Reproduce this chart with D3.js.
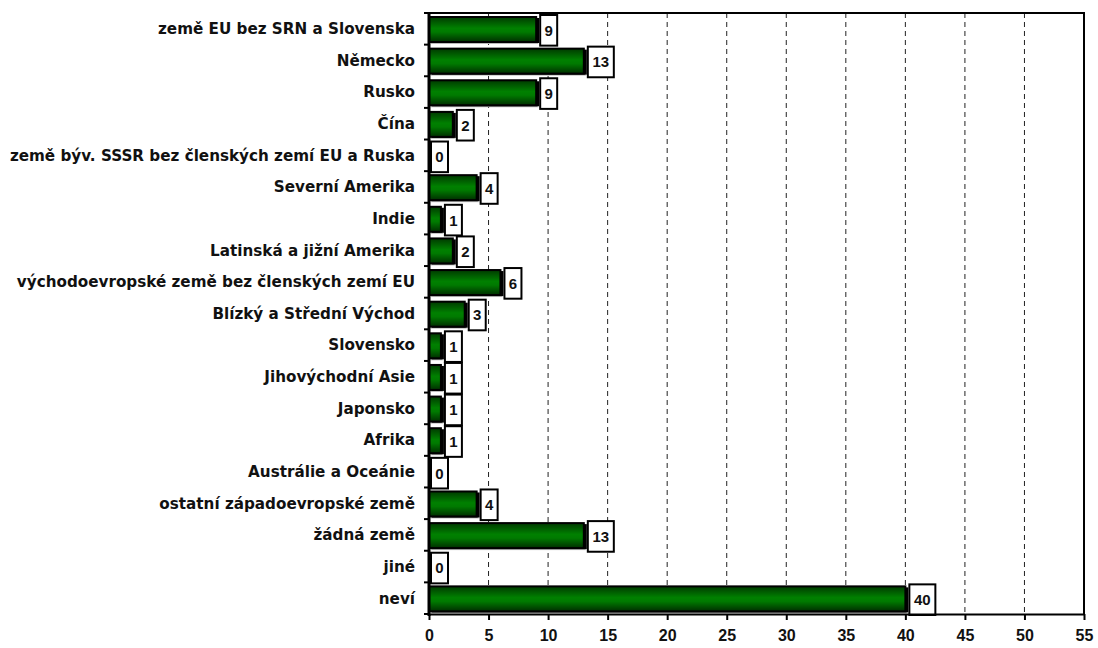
<!DOCTYPE html>
<html>
<head>
<meta charset="utf-8">
<script src="https://cdn.jsdelivr.net/npm/d3@7"></script>
<style>
  html, body { margin: 0; padding: 0; background: #fff; }
  svg { display: block; }
</style>
</head>
<body>
<svg id="chart" width="1098" height="648"></svg>
<script>
// Categories (top to bottom) and their values
const categories = [
  "země EU bez SRN a Slovenska",
  "Německo",
  "Rusko",
  "Čína",
  "země býv. SSSR bez členských zemí EU a Ruska",
  "Severní Amerika",
  "Indie",
  "Latinská a jižní Amerika",
  "východoevropské země bez členských zemí EU",
  "Blízký a Střední Východ",
  "Slovensko",
  "Jihovýchodní Asie",
  "Japonsko",
  "Afrika",
  "Austrálie a Oceánie",
  "ostatní západoevropské země",
  "žádná země",
  "jiné",
  "neví"
];
const values = [9, 13, 9, 2, 0, 4, 1, 2, 6, 3, 1, 1, 1, 1, 0, 4, 13, 0, 40];
const xTicks = [0, 5, 10, 15, 20, 25, 30, 35, 40, 45, 50, 55];

const svg = d3.select("#chart");
const plotL = 429, plotR = 1084, plotT = 13, plotB = 614;

const x = d3.scaleLinear().domain([0, 55]).range([plotL, plotR]);
const y = d3.scaleBand().domain(categories).range([plotT, plotB]).paddingInner(0).paddingOuter(0);
const bw = y.bandwidth();

// bar gradient
const defs = svg.append("defs");
const grad = defs.append("linearGradient").attr("id", "barGrad")
  .attr("x1", 0).attr("y1", 0).attr("x2", 0).attr("y2", 1);
grad.append("stop").attr("offset", "0%").attr("stop-color", "#003a00");
grad.append("stop").attr("offset", "45%").attr("stop-color", "#008000");
grad.append("stop").attr("offset", "60%").attr("stop-color", "#007a00");
grad.append("stop").attr("offset", "100%").attr("stop-color", "#002e00");

// dashed vertical gridlines
svg.append("g").selectAll("line")
  .data(xTicks.filter(d => d > 0 && d < 55))
  .join("line")
  .attr("x1", d => x(d)).attr("x2", d => x(d))
  .attr("y1", plotT).attr("y2", plotB)
  .attr("stroke", "#222").attr("stroke-width", 1)
  .attr("stroke-dasharray", "5,4");

// frame top and right
svg.append("path")
  .attr("d", `M${plotL},${plotT}H${plotR}V${plotB}`)
  .attr("fill", "none").attr("stroke", "#000").attr("stroke-width", 2);

// bars
const barH = 25, barOff = 4;
const rows = svg.append("g").selectAll("g")
  .data(categories.map((c, i) => ({ c, v: values[i] }))).join("g");

// light shadow line under bars
rows.filter(d => d.v > 0).append("rect")
  .attr("x", x(0) + 2)
  .attr("y", d => y(d.c) + barOff + barH)
  .attr("width", d => x(d.v) - x(0))
  .attr("height", 2)
  .attr("fill", "#bbb");

// dark drop shadow
rows.filter(d => d.v > 0).append("rect")
  .attr("x", x(0) + 3)
  .attr("y", d => y(d.c) + barOff + 1)
  .attr("width", d => x(d.v) - x(0))
  .attr("height", barH)
  .attr("fill", "#000");

rows.filter(d => d.v > 0).append("rect")
  .attr("x", x(0))
  .attr("y", d => y(d.c) + barOff)
  .attr("width", d => x(d.v) - x(0))
  .attr("height", barH)
  .attr("fill", "url(#barGrad)")
  .attr("stroke", "#000").attr("stroke-width", 2);

// value boxes
rows.each(function(d) {
  const g = d3.select(this);
  const txt = String(d.v);
  const w = txt.length > 1 ? 26 : 17;
  const bx = x(d.v) + (d.v > 0 ? 4 : 2);
  g.append("rect")
    .attr("x", bx).attr("y", y(d.c) + 2)
    .attr("width", w).attr("height", bw - 1)
    .attr("fill", "#fff").attr("stroke", "#000").attr("stroke-width", 2);
  g.append("text")
    .attr("x", bx + w / 2).attr("y", y(d.c) + 2 + (bw - 1) / 2)
    .attr("dy", "0.36em")
    .attr("text-anchor", "middle")
    .attr("font-family", "Liberation Sans, Arial, sans-serif")
    .attr("font-weight", "bold").attr("font-size", 15)
    .attr("fill", "#111")
    .text(txt);
});

// bottom axis
const xAxis = d3.axisBottom(x).tickValues(xTicks).tickSize(6).tickSizeOuter(0);
const gx = svg.append("g").attr("transform", `translate(0,${plotB})`).call(xAxis);
gx.select(".domain").attr("stroke", "#000").attr("stroke-width", 2);
gx.selectAll(".tick line").attr("stroke", "#000").attr("stroke-width", 2);
gx.selectAll(".tick text")
  .attr("y", 16)
  .attr("font-family", "Liberation Sans, Arial, sans-serif")
  .attr("font-weight", "bold").attr("font-size", 16)
  .attr("fill", "#111");

// left axis with ticks at band boundaries
svg.append("line")
  .attr("x1", plotL).attr("x2", plotL)
  .attr("y1", plotT).attr("y2", plotB + 2)
  .attr("stroke", "#000").attr("stroke-width", 3);
svg.append("g").selectAll("line")
  .data(d3.range(categories.length + 1))
  .join("line")
  .attr("x1", plotL - 5).attr("x2", plotL)
  .attr("y1", i => plotT + i * bw).attr("y2", i => plotT + i * bw)
  .attr("stroke", "#000").attr("stroke-width", 2);

// category labels
svg.append("g").selectAll("text")
  .data(categories)
  .join("text")
  .attr("x", plotL - 14)
  .attr("y", d => y(d) + bw / 2)
  .attr("dy", "0.35em")
  .attr("text-anchor", "end")
  .attr("font-family", "DejaVu Sans, sans-serif")
  .attr("font-weight", "bold").attr("font-size", 15.2)
  .attr("fill", "#111")
  .text(d => d);
</script>
</body>
</html>
